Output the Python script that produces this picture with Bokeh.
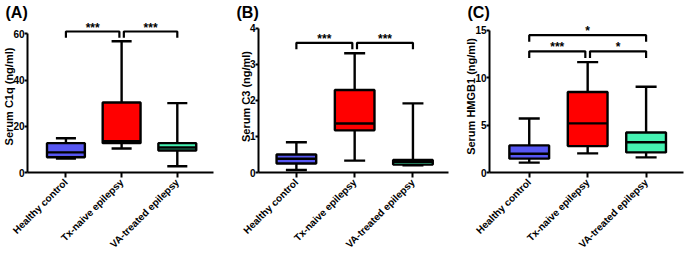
import math
from bokeh.plotting import figure
from bokeh.layouts import row
from bokeh.models import Range1d, FixedTicker, ColumnDataSource
from bokeh.embed import file_html
from bokeh.resources import INLINE

categories = ["Healthy control", "Tx-naive epilepsy", "VA-treated epilepsy"]
colors = ["#5757F2", "#FF0000", "#45F2B2"]

# Panel A: Serum C1q (ng/ml)
c1q_lower = [6.0, 10.4, 2.7]
c1q_q1 = [6.6, 12.7, 9.5]
c1q_median = [8.7, 13.5, 10.8]
c1q_q3 = [12.7, 30.3, 12.7]
c1q_upper = [14.8, 56.8, 30.0]

# Panel B: Serum C3 (ng/ml)
c3_lower = [0.07, 0.33, 0.20]
c3_q1 = [0.25, 1.17, 0.22]
c3_median = [0.38, 1.36, 0.30]
c3_q3 = [0.50, 2.29, 0.35]
c3_upper = [0.84, 3.31, 1.92]

# Panel C: Serum HMGB1 (ng/ml)
hmgb1_lower = [1.04, 2.02, 1.6]
hmgb1_q1 = [1.46, 2.79, 2.12]
hmgb1_median = [1.98, 5.19, 3.2]
hmgb1_q3 = [2.86, 8.5, 4.22]
hmgb1_upper = [5.7, 11.65, 9.06]

# significance comparisons: (group i, group j, label)
c1q_sig = [(0, 1, "***"), (1, 2, "***")]
c3_sig = [(0, 1, "***"), (1, 2, "***")]
hmgb1_sig = [(0, 1, "***"), (1, 2, "*"), (0, 2, "*")]

FONT = "Liberation Sans"


def panel(title, ylabel, lower, q1, med, q3, upper, sigs, yticks, yend,
          xr, width, mbl, mbr, bracket_levels):
    p = figure(width=width, height=258, output_backend="svg",
               toolbar_location=None, x_range=Range1d(*xr),
               y_range=Range1d(0, yend), min_border_left=mbl,
               min_border_right=mbr, min_border_top=20,
               min_border_bottom=86, title=title)
    p.outline_line_color = None
    p.xgrid.visible = False
    p.ygrid.visible = False
    p.title.text_font = FONT
    p.title.text_font_size = "16px"
    p.title.text_font_style = "bold"
    p.title.text_color = "black"
    p.title.offset = -22
    p.title.standoff = 0

    x = list(range(len(categories)))
    src = ColumnDataSource(dict(x=x, lower=lower, q1=q1, med=med, q3=q3,
                                upper=upper, color=colors,
                                cl=[v - 0.18 for v in x],
                                cr=[v + 0.18 for v in x],
                                bl=[v - 0.34 for v in x],
                                br=[v + 0.34 for v in x]))
    lw = 2.4
    p.segment(x0="x", y0="q3", x1="x", y1="upper", source=src,
              line_color="black", line_width=lw)
    p.segment(x0="x", y0="q1", x1="x", y1="lower", source=src,
              line_color="black", line_width=lw)
    p.segment(x0="cl", y0="upper", x1="cr", y1="upper", source=src,
              line_color="black", line_width=lw)
    p.segment(x0="cl", y0="lower", x1="cr", y1="lower", source=src,
              line_color="black", line_width=lw)
    p.vbar(x="x", width=0.68, bottom="q1", top="q3", source=src,
           fill_color="color", line_color="black", line_width=lw)
    p.segment(x0="bl", y0="med", x1="br", y1="med", source=src,
              line_color="black", line_width=lw)

    # significance brackets
    xs, ys, tx, ty, tt = [], [], [], [], []
    for (i, j, lab), (top, leg, star) in zip(sigs, bracket_levels):
        a = i + (0.04 if i == 1 else 0.0)
        b = j - (0.04 if j == 1 else 0.0)
        xs.append([a, a, b, b])
        ys.append([leg, top, top, leg])
        tx.append((a + b) / 2)
        ty.append(star)
        tt.append(lab)
    p.multi_line(xs=xs, ys=ys, line_color="black", line_width=2.2)
    p.text(x=tx, y=ty, text=tt, text_align="center", text_baseline="middle",
           text_font_size="12px", text_font_style="bold", text_color="black",
           text_font={"value": FONT})

    xa = p.xaxis[0]
    xa.ticker = FixedTicker(ticks=x)
    xa.major_label_overrides = {i: c for i, c in enumerate(categories)}
    xa.major_label_orientation = math.pi / 4
    xa.major_label_text_font = FONT
    xa.major_label_text_font_size = "10px"
    xa.major_label_text_font_style = "bold"
    xa.major_label_text_color = "black"
    xa.major_label_standoff = 3
    xa.axis_line_width = 2
    xa.major_tick_line_width = 2
    xa.major_tick_out = 5
    xa.major_tick_in = 0
    xa.minor_tick_line_color = None
    xa.axis_line_color = "black"
    xa.major_tick_line_color = "black"

    ya = p.yaxis[0]
    ya.ticker = FixedTicker(ticks=yticks)
    ya.bounds = (0, yticks[-1])
    ya.axis_label = ylabel
    ya.axis_label_text_font = FONT
    ya.axis_label_text_font_size = "11px"
    ya.axis_label_text_font_style = "bold"
    ya.axis_label_text_color = "black"
    ya.axis_label_standoff = -5
    ya.major_label_text_font = FONT
    ya.major_label_text_font_size = "10px"
    ya.major_label_text_font_style = "bold"
    ya.major_label_text_color = "black"
    ya.major_label_standoff = 0
    ya.axis_line_width = 2
    ya.axis_line_color = "black"
    ya.major_tick_line_width = 2
    ya.major_tick_line_color = "black"
    ya.major_tick_out = 3
    ya.major_tick_in = 0
    ya.minor_tick_line_color = None
    return p


pa = panel("(A)", "Serum C1q (ng/ml)", c1q_lower, c1q_q1, c1q_median,
           c1q_q3, c1q_upper, c1q_sig, [0, 20, 40, 60], 65.75,
           (-0.69, 2.65), 230, 0, 17,
           [(61.0, 58.3, 62.6), (61.0, 58.3, 62.6)])
pb = panel("(B)", "Serum C3 (ng/ml)", c3_lower, c3_q1, c3_median,
           c3_q3, c3_upper, c3_sig, [0, 1, 2, 3, 4], 4.22,
           (-0.65, 2.61), 232, 28, 14,
           [(3.6, 3.42, 3.71), (3.6, 3.42, 3.71)])
pc = panel("(C)", "Serum HMGB1 (ng/ml)", hmgb1_lower, hmgb1_q1,
           hmgb1_median, hmgb1_q3, hmgb1_upper, hmgb1_sig,
           [0, 5, 10, 15], 16.05, (-0.68, 2.64), 223, 0, 2,
           [(12.8, 12.1, 13.2), (12.8, 12.1, 13.2), (14.5, 13.8, 14.9)])

layout = row(pa, pb, pc)
open("out.html", "w").write(file_html(layout, INLINE))
